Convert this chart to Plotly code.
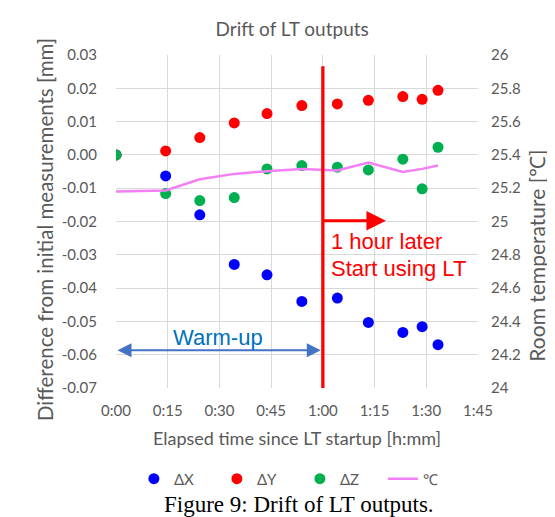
import plotly.graph_objects as go

# elapsed time [min] since LT startup
minutes = [0, 14.4, 24.3, 34.3, 43.8, 53.9, 64.2, 73.2, 83.2, 88.8, 93.4]
dx = [0.0, -0.0063, -0.0180, -0.0329, -0.0360, -0.0440, -0.0430, -0.0503, -0.0533, -0.0516, -0.0570]
dy = [0.0, 0.0012, 0.0052, 0.0096, 0.0124, 0.0148, 0.0153, 0.0164, 0.0175, 0.0167, 0.0194]
dz = [0.0, -0.0116, -0.0137, -0.0128, -0.0042, -0.0032, -0.0037, -0.0045, -0.0013, -0.0102, 0.0023]
temp = [25.18, 25.186, 25.254, 25.286, 25.302, 25.316, 25.306, 25.354, 25.298, 25.316, 25.336]

x_ticks = [0, 15, 30, 45, 60, 75, 90, 105]
x_labels = ["0:00", "0:15", "0:30", "0:45", "1:00", "1:15", "1:30", "1:45"]
y_ticks = [0.03, 0.02, 0.01, 0.0, -0.01, -0.02, -0.03, -0.04, -0.05, -0.06, -0.07]
y_labels = [("%.2f" % v).replace("-0.00", "0.00") for v in y_ticks]

gray = "#595959"
grid = "#d9d9d9"
axis_font = dict(family="Lato", size=15, color=gray)

fig = go.Figure()
fig.add_trace(go.Scatter(x=minutes, y=dx, mode="markers", name="ΔX",
                         marker=dict(color="#0000ff", size=11)))
fig.add_trace(go.Scatter(x=minutes, y=dy, mode="markers", name="ΔY",
                         marker=dict(color="#ff0000", size=11)))
fig.add_trace(go.Scatter(x=minutes, y=dz, mode="markers", name="ΔZ",
                         marker=dict(color="#00b050", size=11)))
fig.add_trace(go.Scatter(x=minutes, y=temp, mode="lines", name="℃", yaxis="y2",
                         line=dict(color="#f47ff4", width=2.5)))

# start of measurement: vertical line at 1:00
fig.add_shape(type="line", x0=60, x1=60, y0=0.0266, y1=-0.07,
              line=dict(color="#ff0000", width=3.3))
fig.add_annotation(x=78.3, y=-0.0198, ax=59.6, ay=-0.0198, axref="x", ayref="y",
                   xref="x", yref="y", text="", showarrow=True,
                   arrowhead=2, arrowsize=1.3, arrowwidth=3, arrowcolor="#ff0000")
red_font = dict(family="Liberation Sans", size=22, color="#ff0000")
fig.add_annotation(x=61.9, y=-0.0259, xref="x", yref="y", xanchor="left", yanchor="middle",
                   text="1 hour later", showarrow=False, font=red_font)
fig.add_annotation(x=61.9, y=-0.0340, xref="x", yref="y", xanchor="left", yanchor="middle",
                   text="Start using LT", showarrow=False, font=red_font)

# warm-up period
fig.add_annotation(x=59.4, y=-0.0587, ax=0, ay=-0.0587, axref="x", ayref="y",
                   xref="x", yref="y", text="", showarrow=True, arrowside="end+start",
                   arrowhead=2, arrowsize=1.4, arrowwidth=2, arrowcolor="#4472c4")
fig.add_annotation(x=29.7, y=-0.0547, xref="x", yref="y", text="Warm-up", showarrow=False,
                   font=dict(family="Liberation Sans", size=22, color="#0070c0"))

# axis titles
fig.add_annotation(x=-0.235, y=0.477, xref="paper", yref="paper", textangle=-90,
                   text="Difference from initial measurements [mm]", showarrow=False,
                   font=dict(family="Lato", size=20.5, color=gray))
fig.add_annotation(x=1.2017, y=0.396, xref="paper", yref="paper", textangle=-90,
                   text="Room temperature [℃]", showarrow=False,
                   font=dict(family="Lato", size=21, color=gray))

fig.add_annotation(x=0.506, y=-0.351, xref="paper", yref="paper", xanchor="center", yanchor="middle",
                   text="Figure 9: Drift of LT outputs.", showarrow=False,
                   font=dict(family="Liberation Serif", size=23, color="black"))

fig.update_layout(
    width=555, height=517,
    margin=dict(l=108, r=85, t=47, b=137),
    paper_bgcolor="white", plot_bgcolor="white",
    title=dict(text="Drift of LT outputs", x=0.512, xanchor="center", y=0.958, yanchor="middle",
               font=dict(family="Lato", size=19, color=gray)),
    xaxis=dict(range=[0, 105], tickvals=x_ticks, ticktext=x_labels, showgrid=True,
               gridcolor=grid, gridwidth=1, zeroline=False, showline=False,
               tickfont=axis_font, ticks="", ticklabelstandoff=12,
               title=dict(text="Elapsed time since LT startup [h:mm]",
                          font=dict(family="Lato", size=18, color=gray), standoff=14)),
    yaxis=dict(range=[-0.07, 0.03], tickvals=y_ticks, ticktext=y_labels, showgrid=True,
               gridcolor=grid, gridwidth=1, zeroline=False, tickfont=axis_font,
               ticks="", ticklabelstandoff=18),
    yaxis2=dict(range=[24, 26], dtick=0.2, overlaying="y", side="right", showgrid=False,
                zeroline=False, tickfont=axis_font, ticks="", ticklabelstandoff=12),
    legend=dict(orientation="h", x=0.508, xanchor="center", y=-0.273, yanchor="middle",
                font=dict(family="Lato", size=15, color=gray), itemwidth=30, entrywidth=38),
    showlegend=True,
)

fig.write_html("out.html")
